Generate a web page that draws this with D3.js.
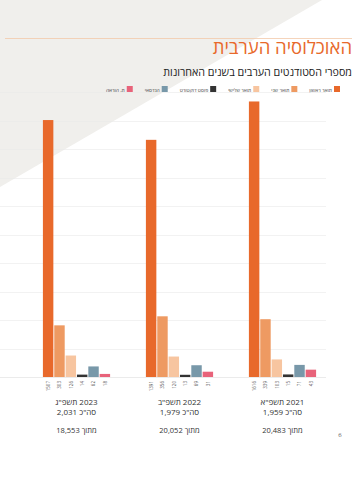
<!DOCTYPE html>
<html>
<head>
<meta charset="utf-8">
<script src="https://cdn.jsdelivr.net/npm/d3@7"></script>
<style>
  body { margin: 0; background: #fff; }
  svg { display: block; font-family: "Open Sans", "Liberation Sans", "DejaVu Sans", sans-serif; }
</style>
</head>
<body>
<div id="chart"></div>
<script>
const width = 361;
const height = 480;

const years = ["2023", "2022", "2021"];
const yearNames = ["2023 תשפ\"ג", "2022 תשפ\"ב", "2021 תשפ\"א"];
const totals = ["סה\"כ 2,031", "סה\"כ 1,979", "סה\"כ 1,959"];
const outOf = ["מתוך 18,553", "מתוך 20,052", "מתוך 20,483"];
const degrees = ["תואר ראשון", "תואר שני", "תואר שלישי", "פוסט דוקטורט", "הנדסאי", "ת. הוראה"];
const colors = ["#E8692B", "#EE9A62", "#F7C5A0", "#333333", "#7898A9", "#E8637A"];
const values2023 = [1507, 303, 126, 14, 62, 18];
const values2022 = [1391, 356, 120, 13, 69, 31];
const values2021 = [1616, 339, 103, 15, 71, 43];
const seriesByYear = [values2023, values2022, values2021];
const gridStep = 167;

const svg = d3.select('#chart')
    .append('svg')
    .attr('width', width)
    .attr('height', height)
    .attr('direction', 'rtl');

// grey corner shape in the background
svg.append('path')
    .attr('d', 'M0,0 L322,0 L0,187 Z')
    .attr('fill', '#F0EFEC');

// title + rule
svg.append('line')
    .attr('x1', 5).attr('x2', 352)
    .attr('y1', 38.5).attr('y2', 38.5)
    .attr('stroke', '#F3C9A9').attr('stroke-width', 0.8);

svg.append('text')
    .attr('x', 352).attr('y', 54)
    .attr('text-anchor', 'start')
    .attr('font-size', 18.5)
    .attr('font-weight', 500)
    .attr('fill', '#E8692B')
    .text('האוכלוסיה הערבית');

svg.append('text')
    .attr('x', 352).attr('y', 76)
    .attr('text-anchor', 'start')
    .attr('font-size', 10.7)
    .attr('fill', '#222')
    .text('מספרי הסטודנטים הערבים בשנים האחרונות');

// legend, laid out right to left
const legend = svg.append('g').attr('class', 'legend');
let lx = 340;
degrees.forEach((d, i) => {
    legend.append('rect')
        .attr('x', lx - 6).attr('y', 86)
        .attr('width', 6).attr('height', 6)
        .attr('fill', colors[i]);
    const t = legend.append('text')
        .attr('x', lx - 8).attr('y', 91.5)
        .attr('text-anchor', 'start')
        .attr('font-size', 5)
        .attr('fill', '#444')
        .text(d);
    lx = lx - 8 - t.node().getComputedTextLength() - 12;
});

// scales
const x0 = d3.scaleBand()
    .domain(years)
    .range([42, 317])
    .paddingInner(0.33)
    .paddingOuter(0);

const x1 = d3.scaleBand()
    .domain(d3.range(degrees.length))
    .range([0, x0.bandwidth()])
    .padding(0.08);

const y = d3.scaleLinear()
    .domain([0, gridStep * 10])
    .range([377, 377 - gridStep * 10 * 0.1705]);

// grid lines
svg.append('g')
    .selectAll('line')
    .data(d3.range(gridStep, gridStep * 10 + 1, gridStep))
    .enter()
    .append('line')
        .attr('x1', 0).attr('x2', 326)
        .attr('y1', d => Math.round(y(d)) + 0.5)
        .attr('y2', d => Math.round(y(d)) + 0.5)
        .attr('stroke', '#E9E9E9')
        .attr('stroke-width', 0.6);

svg.append('line')
    .attr('x1', 0).attr('x2', 326)
    .attr('y1', y(0) + 0.5).attr('y2', y(0) + 0.5)
    .attr('stroke', '#DDDDDD').attr('stroke-width', 0.6);

// bars
const groups = svg.append('g')
    .selectAll('g')
    .data(years)
    .enter()
    .append('g')
        .attr('transform', d => `translate(${x0(d)},0)`);

groups.selectAll('rect')
    .data((d, i) => seriesByYear[i])
    .enter()
    .append('rect')
        .attr('x', (d, i) => x1(i))
        .attr('y', d => y(d))
        .attr('width', x1.bandwidth())
        .attr('height', d => y(0) - y(d))
        .attr('fill', (d, i) => colors[i]);

// value labels, rotated
groups.selectAll('text.val')
    .data((d, i) => seriesByYear[i])
    .enter()
    .append('text')
        .attr('class', 'val')
        .attr('transform', (d, i) => `translate(${x1(i) + x1.bandwidth() / 2 + 1.8},${y(0) + 4}) rotate(-90)`)
        .attr('direction', 'ltr')
        .attr('text-anchor', 'end')
        .attr('font-size', 4.5)
        .attr('fill', '#555')
        .text(d => d);

// year captions under each group
const cap = svg.append('g');
years.forEach((yr, i) => {
    const cx = x0(yr) + x0.bandwidth() / 2;
    cap.append('text')
        .attr('x', cx).attr('y', 405)
        .attr('text-anchor', 'middle')
        .attr('font-size', 8)
        .attr('fill', '#333')
        .text(yearNames[i]);
    cap.append('text')
        .attr('x', cx).attr('y', 415)
        .attr('text-anchor', 'middle')
        .attr('font-size', 8)
        .attr('fill', '#333')
        .text(totals[i]);
    cap.append('text')
        .attr('x', cx).attr('y', 433)
        .attr('text-anchor', 'middle')
        .attr('font-size', 7.5)
        .attr('fill', '#333')
        .text(outOf[i]);
});

// page number
svg.append('text')
    .attr('x', 340).attr('y', 437)
    .attr('text-anchor', 'middle')
    .attr('font-size', 6)
    .attr('fill', '#555')
    .text('6');
</script>
</body>
</html>
